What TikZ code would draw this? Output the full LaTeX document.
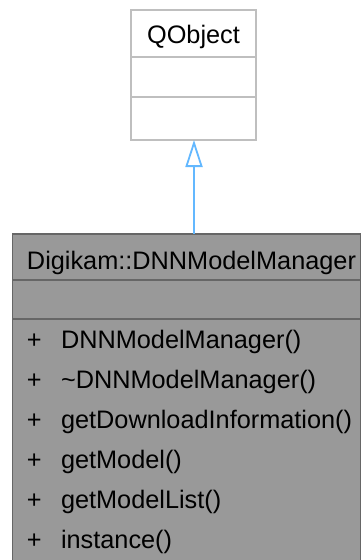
\documentclass[tikz,border=0pt]{standalone}
\usepackage{fontspec}
\setmainfont{Liberation Sans}
\usetikzlibrary{arrows.meta}
\definecolor{boxgray}{HTML}{999999}
\definecolor{boxborder}{HTML}{666666}
\definecolor{qborder}{HTML}{BFBFBF}
\definecolor{arrowblue}{HTML}{63B8FF}
\tikzset{
  txt/.style={inner sep=0pt, outer sep=0pt, anchor=base west, font=\fontsize{25.3}{30}\selectfont},
  ctxt/.style={inner sep=0pt, outer sep=0pt, anchor=base, font=\fontsize{25.3}{30}\selectfont},
  umlbox/.style={inner sep=0pt, outer sep=0pt, anchor=north west, line width=1.3pt},
}
\begin{document}
\begin{tikzpicture}[x=1pt,y=-1pt]
\useasboundingbox (0,0) rectangle (364,560);
% QObject
\node[umlbox, draw=qborder, fill=white, minimum width=125pt, minimum height=130pt] (qobj) at (131,10) {};
\draw[qborder, line width=1.3pt] (131,57) -- (256,57) (131,97) -- (256,97);
\node[ctxt] (qname) at (193.5,43) {QObject};
% DNNModelManager
\node[umlbox, draw=boxborder, fill=boxgray, minimum width=348pt, minimum height=340pt] (dnn) at (12.5,234) {};
\draw[boxborder, line width=1.3pt] (12.5,280) -- (360.5,280) (12.5,319) -- (360.5,319);
\node[txt] (dname) at (27,269) {Digikam::DNNModelManager};
\foreach \i/\t in {0/DNNModelManager(), 1/\textasciitilde DNNModelManager(), 2/getDownloadInformation(), 3/getModel(), 4/getModelList(), 5/instance()} {
  \node[txt] (p\i) at (27,348+40*\i) {+};
  \node[txt] (m\i) at (61,348+40*\i) {\t};
}
% inheritance
\draw[arrowblue, line width=1.8pt, -{Triangle[open, length=27pt, width=17pt, fill=white]}] ([xshift=0.5pt]dnn.north -| qobj.south) -- ([xshift=0.5pt]qobj.south);
\end{tikzpicture}
\end{document}
